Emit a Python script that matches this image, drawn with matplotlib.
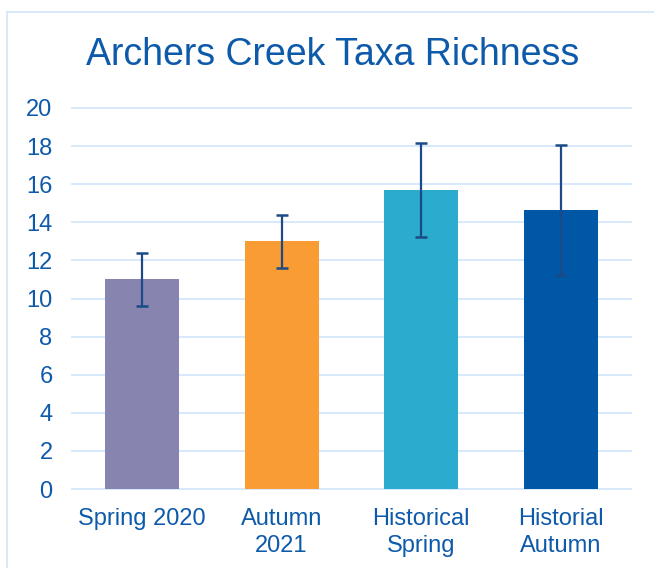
import matplotlib
matplotlib.use('Agg')
import matplotlib.pyplot as plt
from matplotlib.lines import Line2D

categories = ['Spring 2020', 'Autumn\n2021', 'Historical\nSpring', 'Historial\nAutumn']
means = [11.0, 13.0, 15.7, 14.65]
errors = [1.4, 1.4, 2.48, 3.43]
colors = ['#8884B0', '#F99C33', '#2BACCE', '#0057A6']
yticks = [0, 2, 4, 6, 8, 10, 12, 14, 16, 18, 20]

text_color = '#0E5AAA'
grid_color = '#D3E7FA'

plt.rcParams['font.family'] = ['Liberation Sans', 'DejaVu Sans']

fig = plt.figure(figsize=(6.54, 5.68), dpi=100)
ax = fig.add_axes([72 / 654, 79 / 568, 559 / 654, 381 / 568])

x = range(len(categories))
ax.bar(x, means, width=0.53, color=colors, zorder=2)
ax.errorbar(x, means, yerr=errors, fmt='none', ecolor='#1B4A86',
            elinewidth=1.6, capsize=4.5, capthick=1.8, zorder=3)

ax.set_xlim(-0.5, len(categories) - 0.5)
ax.set_ylim(0, 20)
ax.set_yticks(yticks)
ax.set_xticks(list(x))
ax.set_xticklabels(categories, linespacing=1.25)
for y in yticks:
    ax.axhline(y, color=grid_color, lw=1.3, zorder=1, clip_on=False)

for s in ax.spines.values():
    s.set_visible(False)
ax.tick_params(axis='both', length=0, labelsize=17, colors=text_color)
ax.tick_params(axis='y', pad=14)
ax.tick_params(axis='x', pad=14)

# outer chart border (cropped on right and bottom)
fig.add_artist(Line2D([7 / 654, 7 / 654], [-0.1, (568 - 12) / 568],
                      transform=fig.transFigure, color='#D6E9FB', lw=1.4))
fig.add_artist(Line2D([7 / 654, 1.1], [(568 - 12) / 568, (568 - 12) / 568],
                      transform=fig.transFigure, color='#D6E9FB', lw=1.4))

fig.text(333 / 654, (568 - 65) / 568, 'Archers Creek Taxa Richness',
         ha='center', va='baseline', fontsize=27, color=text_color)

fig.savefig('out.png', dpi=100)
